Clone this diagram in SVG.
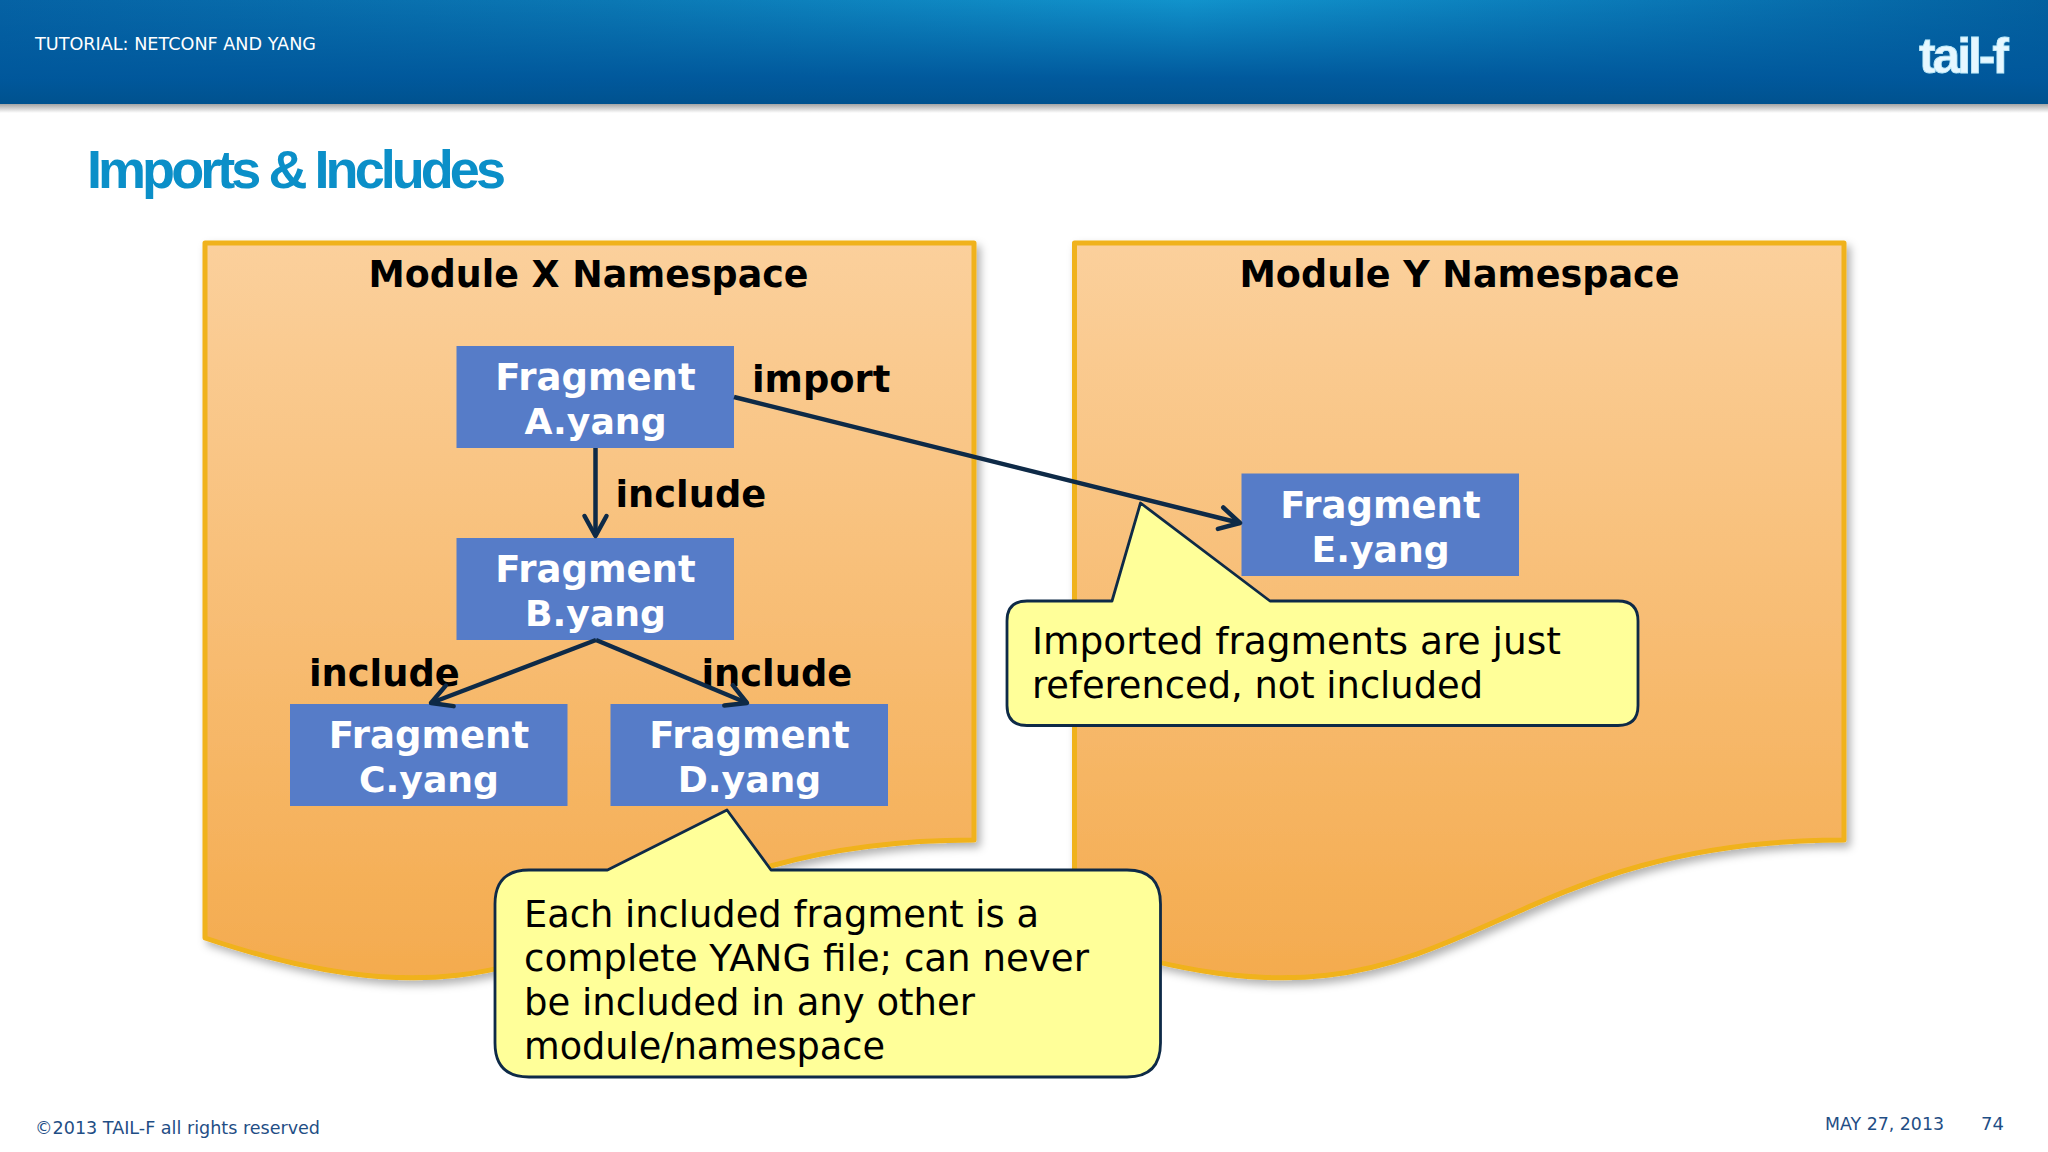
<svg xmlns="http://www.w3.org/2000/svg" width="2048" height="1152" viewBox="0 0 2048 1152">
<defs>
<linearGradient id="hdrH" x1="0" y1="0" x2="1" y2="0"><stop offset="0" stop-color="#0562A4"/><stop offset="0.3" stop-color="#0B78B4"/><stop offset="0.58" stop-color="#1193CC"/><stop offset="0.8" stop-color="#0A78B6"/><stop offset="1" stop-color="#03609F"/></linearGradient>
<linearGradient id="hdrV" x1="0" y1="0" x2="0" y2="1"><stop offset="0" stop-color="#00579B" stop-opacity="0"/><stop offset="0.75" stop-color="#00579B" stop-opacity="0.95"/><stop offset="1" stop-color="#00528F"/></linearGradient>
<linearGradient id="hdrS" x1="0" y1="0" x2="0" y2="1"><stop offset="0" stop-color="#9a9a9a"/><stop offset="1" stop-color="#ffffff"/></linearGradient>
<linearGradient id="docFill" x1="0" y1="0" x2="0" y2="1"><stop offset="0" stop-color="#FBD09C"/><stop offset="1" stop-color="#F4AB4E"/></linearGradient>
<filter id="docShadow" x="-5%" y="-5%" width="112%" height="112%"><feDropShadow dx="4" dy="5" stdDeviation="4" flood-color="#000" flood-opacity="0.3"/></filter>
<marker id="arrow" markerUnits="userSpaceOnUse" markerWidth="34" markerHeight="34" viewBox="-28 -17 34 34" refX="0" refY="0" orient="auto"><path d="M-20,-11 L0,0 L-20,11" fill="none" stroke="#0E2A47" stroke-width="4.5" stroke-linecap="round" stroke-linejoin="round"/></marker>
</defs>
<style>
text{font-family:"DejaVu Sans",Verdana,sans-serif}
.doc{fill:url(#docFill);stroke:#F0B21A;stroke-width:5;stroke-linejoin:round;filter:url(#docShadow)}
.box{fill:#567CC8}
.frag{fill:#fff;font-weight:700;font-size:37px;text-anchor:middle}
.yang{font-size:36.2px}
.lab{fill:#000;font-weight:700;font-size:36.8px}
.head{fill:#000;font-weight:700;font-size:36.4px;text-anchor:middle}
.call{fill:#FFFF99;stroke:#0E2A47;stroke-width:2.8;stroke-linejoin:round}
.ct{fill:#000;font-size:36.8px}
.foot{fill:#1F4E85;font-size:18px}
.conn{fill:none;stroke:#0E2A47;stroke-width:4.5;marker-end:url(#arrow)}
</style>
<rect width="2048" height="1152" fill="#fff"/>
<g id="header">
<rect x="0" y="103" width="2048" height="10" fill="url(#hdrS)"/>
<rect x="0" y="0" width="2048" height="104" fill="url(#hdrH)"/>
<rect x="0" y="0" width="2048" height="104" fill="url(#hdrV)"/>
<text x="35" y="50" font-size="18" fill="#fff" textLength="281" lengthAdjust="spacingAndGlyphs">TUTORIAL: NETCONF AND YANG</text>
<text x="1919" y="73" font-size="50" font-weight="700" fill="#E6F7FF" stroke="#BFEBFA" stroke-width="0.8" style="font-family:'Liberation Sans',Arial,sans-serif" textLength="90" lengthAdjust="spacing">tail-f</text>
</g>
<text id="title" x="87" y="188" font-size="54" font-weight="700" fill="#0B8FC8" style="font-family:'Liberation Sans',Arial,sans-serif" textLength="419" lengthAdjust="spacing">Imports &amp; Includes</text>
<g id="moduleX">
<path class="doc" d="M205,243 H974 V840 C589.5,840 589.5,1067.5 205,938 Z"/>
<text class="head" x="588.5" y="287" textLength="440" lengthAdjust="spacingAndGlyphs">Module X Namespace</text>
</g>
<g id="moduleY">
<path class="doc" d="M1074.5,243 H1844 V840 C1459,840 1459,1067.5 1074.5,938 Z"/>
<text class="head" x="1459.5" y="287" textLength="440" lengthAdjust="spacingAndGlyphs">Module Y Namespace</text>
</g>
<g id="fragmentA"><rect class="box" x="456.5" y="346" width="277.5" height="102"/><text class="frag" x="595.5" y="390">Fragment</text><text class="frag yang" x="595.5" y="434">A.yang</text></g>
<g id="fragmentB"><rect class="box" x="456.5" y="538" width="277.5" height="102"/><text class="frag" x="595.5" y="582">Fragment</text><text class="frag yang" x="595.5" y="626">B.yang</text></g>
<g id="fragmentC"><rect class="box" x="290" y="704" width="277.5" height="102"/><text class="frag" x="429" y="748">Fragment</text><text class="frag yang" x="429" y="792">C.yang</text></g>
<g id="fragmentD"><rect class="box" x="610.5" y="704" width="277.5" height="102"/><text class="frag" x="749.5" y="748">Fragment</text><text class="frag yang" x="749.5" y="792">D.yang</text></g>
<g id="fragmentE"><rect class="box" x="1241.5" y="473.5" width="277.5" height="102.5"/><text class="frag" x="1380.5" y="518">Fragment</text><text class="frag yang" x="1380.5" y="562">E.yang</text></g>
<g id="labels">
<text class="lab" x="752" y="392">import</text>
<text class="lab" x="615.5" y="507">include</text>
<text class="lab" x="309" y="686">include</text>
<text class="lab" x="701.5" y="686">include</text>
</g>
<g id="connectors">
<line class="conn" x1="734" y1="397" x2="1240" y2="523"/>
<line class="conn" x1="595.5" y1="448" x2="595.5" y2="536"/>
<line class="conn" x1="596" y1="640" x2="431" y2="703"/>
<line class="conn" x1="596" y1="640" x2="747" y2="703"/>
</g>
<g id="calloutImported">
<path class="call" d="M1027,601 H1112 L1140.5,503 L1270,601 H1618 Q1638,601 1638,621 V705.5 Q1638,725.5 1618,725.5 H1027 Q1007,725.5 1007,705.5 V621 Q1007,601 1027,601 Z"/>
<text class="ct" x="1032" y="654" textLength="529" lengthAdjust="spacingAndGlyphs">Imported fragments are just</text>
<text class="ct" x="1032" y="698" textLength="451" lengthAdjust="spacingAndGlyphs">referenced, not included</text>
</g>
<g id="calloutIncluded">
<path class="call" d="M529,870 H607.5 L727,810 L771,870 H1127 Q1160.5,870 1160.5,904 V1043 Q1160.5,1077 1127,1077 H529 Q495,1077 495,1043 V904 Q495,870 529,870 Z"/>
<text class="ct" x="524" y="927" textLength="515" lengthAdjust="spacingAndGlyphs">Each included fragment is a</text>
<text class="ct" x="524" y="971" textLength="565" lengthAdjust="spacingAndGlyphs">complete YANG file; can never</text>
<text class="ct" x="524" y="1015" textLength="451" lengthAdjust="spacingAndGlyphs">be included in any other</text>
<text class="ct" x="524" y="1059" textLength="361" lengthAdjust="spacingAndGlyphs">module/namespace</text>
</g>
<g id="footer">
<text class="foot" x="35" y="1134" textLength="285" lengthAdjust="spacingAndGlyphs">©2013 TAIL-F all rights reserved</text>
<text class="foot" x="1825" y="1130" textLength="119" lengthAdjust="spacingAndGlyphs">MAY 27, 2013</text>
<text class="foot" x="1981" y="1130">74</text>
</g>
</svg>
